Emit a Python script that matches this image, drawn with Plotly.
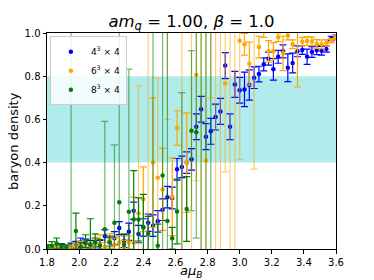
import plotly.graph_objects as go

mu = [round(1.80 + 0.03 * i, 2) for i in range(61)]

blue_val = [0.005, 0.008, 0.005, 0.010, 0.008, 0.012, 0.020, 0.031, 0.026, 0.020,
            0.030, 0.020, 0.060, 0.032, 0.050, 0.097, 0.037, 0.080, 0.177, 0.069,
            0.100, 0.122, 0.108, 0.128, 0.182, 0.240, 0.236, 0.369, 0.380, 0.400,
            0.415, 0.566, 0.647, 0.520, 0.545, 0.611, 0.637, 0.849, 0.566, 0.762,
            0.735, 0.739, 0.759, 0.793, 0.810, 0.855, 0.881, 0.832, 0.890, 0.915,
            0.839, 0.861, 0.915, 0.921, 0.890, 0.912, 0.920, 0.918, 0.926, 0.975, 0.980]
blue_err = [0.01, 0.01, 0.01, 0.01, 0.01, 0.015, 0.015, 0.02, 0.02, 0.02,
            0.02, 0.02, 0.03, 0.02, 0.03, 0.03, 0.03, 0.04, 0.04, 0.04,
            0.04, 0.04, 0.05, 0.05, 0.05, 0.05, 0.05, 0.05, 0.05, 0.05,
            0.05, 0.06, 0.06, 0.06, 0.06, 0.06, 0.06, 0.06, 0.06, 0.06,
            0.06, 0.08, 0.07, 0.05, 0.036, 0.03, 0.03, 0.05, 0.03, 0.03,
            0.064, 0.046, 0.025, 0.02, 0.035, 0.025, 0.02, 0.02, 0.015, 0.01, 0.01]

orange_val = [0.005, 0.005, 0.003, 0.005, 0.005, 0.008, 0.010, 0.015, 0.010, 0.012,
              0.020, 0.025, 0.010, 0.040, 0.020, 0.030, 0.010, 0.031, 0.030, 0.165,
              0.230, -0.30, 0.400, 0.330, 0.276, 1.10, 0.242, 0.560, -0.30, 0.400,
              1.20, 0.806, 1.20, 0.410, 1.10, 1.30, 1.30, 0.767, 1.30, 1.30,
              0.964, 0.948, 0.858, 1.05, 0.935, 1.03, 0.915, 0.915, 0.980, 0.906,
              0.988, 0.948, 1.05, 0.960, 0.963, 0.961, 0.949, 0.948, 0.955, 0.964, 0.978]
orange_err = [0.01, 0.01, 0.01, 0.01, 0.01, 0.01, 0.015, 0.02, 0.02, 0.02,
              0.03, 0.04, 0.02, 0.03, 0.03, 0.03, 0.03, 0.03, 0.21, 0.59,
              0.15, 1.60, 0.30, 0.46, 0.19, 0.50, 0.18, 0.08, 1.60, 0.23,
              1.40, 0.49, 1.40, 0.70, 0.40, 1.60, 1.60, 0.41, 1.60, 1.60,
              0.55, 0.05, 0.10, 0.68, 0.05, 0.05, 0.05, 0.04, 0.02, 0.08,
              0.02, 0.02, 0.30, 0.02, 0.02, 0.02, 0.02, 0.02, 0.015, 0.01, 0.01]

green_val = [0.010, 0.014, 0.026, 0.010, 0.008, -0.30, 0.083, 0.010, 0.036, 0.020,
             0.030, 0.015, 0.091, 0.030, 0.122, 0.216, 0.020, 0.173, 0.137, 0.137,
             0.103, 0.071, -0.30, 0.015, 0.340, 0.130, 0.050, 0.174, -0.10, 0.185,
             0.548, 0.540, -0.30, -0.30, -0.30]
green_err = [0.01, 0.02, 0.025, 0.015, 0.01, 1.60, 0.083, 0.02, 0.03, 0.12,
             0.04, 0.03, 0.50, 0.03, 0.36, 0.90, 0.05, 0.66, 0.226, 0.10,
             0.15, 0.08, 1.60, 0.10, 0.70, 0.90, 0.05, 0.15, 0.824, 0.15,
             0.37, 0.49, 1.60, 1.60, 1.60]

series = [
    ("4<sup>3</sup> × 4", blue_val, blue_err, (0, 0, 255)),
    ("6<sup>3</sup> × 4", orange_val, orange_err, (255, 165, 0)),
    ("8<sup>3</sup> × 4", green_val, green_err, (0, 128, 0)),
]

fig = go.Figure()

fig.add_shape(type="rect", xref="paper", yref="y", x0=0, x1=1, y0=0.4, y1=0.8,
              fillcolor="#b0ecec", line_width=0, layer="below")

for name, vals, errs, (r, g, b) in series:
    xs = mu[:len(vals)]
    for faded in (True, False):
        idx = [i for i in range(len(vals)) if (errs[i] > 0.3) == faded]
        a = 0.55 if faded else 1.0
        fig.add_trace(go.Scatter(
            x=[xs[i] for i in idx], y=[vals[i] for i in idx],
            mode="markers", name=name, legendgroup=name,
            showlegend=not faded,
            marker=dict(color=f"rgb({r},{g},{b})", size=4.5),
            error_y=dict(type="data", array=[errs[i] for i in idx], visible=True,
                         color=f"rgba({r},{g},{b},{a})", thickness=1.2, width=3.5),
        ))

fig.update_layout(
    width=374, height=280,
    margin=dict(l=47, r=38, t=33, b=31, autoexpand=False),
    paper_bgcolor="white", plot_bgcolor="white",
    font=dict(family="DejaVu Sans", size=10, color="black"),
    title=dict(text="<i>am</i><sub><i>q</i></sub> = 1.00, <i>β</i> = 1.0",
               x=0.512, xanchor="center", y=0.925, yanchor="middle",
               yref="container", font=dict(size=16.5)),
    showlegend=True,
    legend=dict(x=0.01, y=0.985, xanchor="left", yanchor="top",
                bgcolor="rgba(255,255,255,0.85)", bordercolor="#cccccc",
                borderwidth=1, font=dict(size=9), tracegroupgap=0,
                itemwidth=30),
    annotations=[
        dict(text="<i>aμ</i><sub><i>B</i></sub>", xref="paper", yref="paper",
             x=0.5, y=-0.055, xanchor="center", yanchor="top",
             showarrow=False, font=dict(size=13)),
        dict(text="baryon density", xref="paper", yref="paper",
             x=-0.118, y=0.5, xanchor="center", yanchor="middle", textangle=-90,
             showarrow=False, font=dict(size=13)),
    ],
)

fig.update_xaxes(range=[1.8, 3.6], tickvals=[1.8, 2.0, 2.2, 2.4, 2.6, 2.8, 3.0, 3.2, 3.4, 3.6],
                 ticktext=["1.8", "2.0", "2.2", "2.4", "2.6", "2.8", "3.0", "3.2", "3.4", "3.6"],
                 ticks="outside", ticklen=3.5, tickcolor="black", showgrid=False,
                 zeroline=False, showline=True, linecolor="black", linewidth=1, mirror=True,
                 automargin=False)
fig.update_yaxes(range=[0, 1.0], tickvals=[0, 0.2, 0.4, 0.6, 0.8, 1.0],
                 ticktext=["0.0", "0.2", "0.4", "0.6", "0.8", "1.0"],
                 ticks="outside", ticklen=3.5, tickcolor="black", showgrid=False,
                 zeroline=False, showline=True, linecolor="black", linewidth=1, mirror=True,
                 automargin=False)

fig.write_html("out.html", config={"displayModeBar": False},
               post_script="document.body.style.margin='0';")
